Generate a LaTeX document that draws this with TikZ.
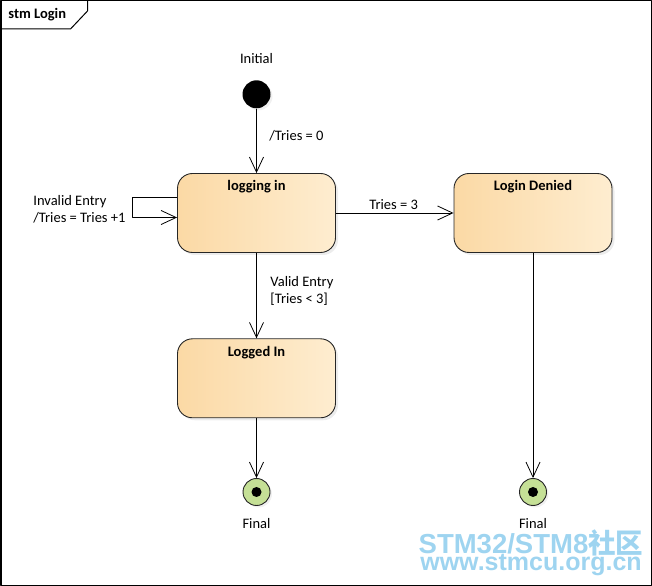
\documentclass[tikz,border=0pt]{standalone}
\usepackage{fontspec}
\setmainfont{Carlito}
\newfontfamily\wmfont{Liberation Sans}
\newfontfamily\wmcjk{Noto Sans CJK SC}
\usetikzlibrary{arrows.meta,shadows}
\definecolor{stateleft}{RGB}{251,217,165}
\definecolor{stateright}{RGB}{254,237,208}
\definecolor{finalgreen}{RGB}{197,224,150}
\definecolor{wmblue}{RGB}{158,212,240}
\tikzset{
  statebox/.style={draw=black!85,line width=0.9bp,rounded corners=15bp,
    left color=stateleft,right color=stateright,
    minimum width=158bp,minimum height=79bp,inner sep=0pt,
    drop shadow={shadow xshift=2.5bp,shadow yshift=-2.5bp,opacity=0.15}},
  titlelbl/.style={anchor=north,yshift=-4bp,font=\fontsize{14.5bp}{17bp}\selectfont\bfseries},
  initstate/.style={circle,fill=black,minimum size=28bp,inner sep=0pt,
    drop shadow={shadow xshift=2bp,shadow yshift=-2bp,opacity=0.12}},
  finalstate/.style={circle,draw=black!85,line width=0.9bp,fill=finalgreen,
    minimum size=27bp,inner sep=0pt,
    drop shadow={shadow xshift=2bp,shadow yshift=-2bp,opacity=0.12},
    path picture={\fill[black] (path picture bounding box.center) circle (5bp);}},
  textlbl/.style={inner sep=0pt},
  edgelbl/.style={inner sep=0pt,anchor=west},
  wmtext/.style={inner sep=0pt,anchor=base,text=wmblue},
}
\begin{document}
\begin{tikzpicture}[>={Straight Barb[length=15bp,width=14bp]},line join=bevel,
  font=\fontsize{14.5bp}{17bp}\selectfont,line width=0.8bp]
\useasboundingbox (0bp,0bp) rectangle (652bp,586bp);
%%
\draw [line width=1.5bp] (0.75bp,0.75bp) rectangle (651.25bp,585.25bp);
\draw [line width=1bp] (0.75bp,557bp) -- (70.5bp,557bp) -- (87.5bp,575bp) -- (87.5bp,585.25bp);
\node (node_frame) at (8bp,571bp) [anchor=west,inner sep=0pt,font=\fontsize{14.5bp}{17bp}\selectfont\bfseries] {stm Login};
%
\node (node_initial) at (256.5bp,491.7bp) [initstate] {};
  \node (node_initial_text) at (256.5bp,527bp) [textlbl] {Initial};
\node (node_logging) at (256.5bp,373bp) [statebox,label={[titlelbl]north:logging in}] {};
\node (node_denied) at (533bp,373bp) [statebox,label={[titlelbl]north:Login Denied}] {};
\node (node_loggedin) at (256.5bp,207.7bp) [statebox,label={[titlelbl]north:Logged In}] {};
\node (node_final1) at (256.5bp,94bp) [finalstate] {};
  \node (node_final1_text) at (256.5bp,62bp) [textlbl] {Final};
\node (node_final2) at (533bp,94bp) [finalstate] {};
  \node (node_final2_text) at (533bp,62bp) [textlbl] {Final};
%
\draw [black,->] (node_initial) -- (node_logging);
  \node (node_lbl_0) at (269bp,450bp) [edgelbl] {/Tries = 0};
\draw [black,->] ([yshift=15.5bp]node_logging.west) -- ++(-44.5bp,0bp) |- ([yshift=-4.5bp]node_logging.west);
  \node (node_lbl_1) at (33bp,377bp) [edgelbl,align=left] {Invalid Entry\\/Tries = Tries +1};
\draw [black,->] (node_logging) -- (node_denied);
  \node (node_lbl_2) at (369bp,381bp) [edgelbl] {Tries = 3};
\draw [black,->] (node_logging) -- (node_loggedin);
  \node (node_lbl_3) at (270bp,295bp) [edgelbl,align=left] {Valid Entry\\{[Tries < 3]}};
\draw [black,->] (node_loggedin) -- (node_final1);
\draw [black,->] (node_denied) -- (node_final2);
%
\node (node_wm_0) at (531bp,33bp) [wmtext,font=\wmfont\bfseries\fontsize{27.5bp}{30bp}\selectfont] {STM32/STM8{\wmcjk 社区}};
\node (node_wm_1) at (531bp,15.5bp) [wmtext,font=\wmfont\bfseries\fontsize{25bp}{27bp}\selectfont] {www.stmcu.org.cn};
%
\end{tikzpicture}
\end{document}
